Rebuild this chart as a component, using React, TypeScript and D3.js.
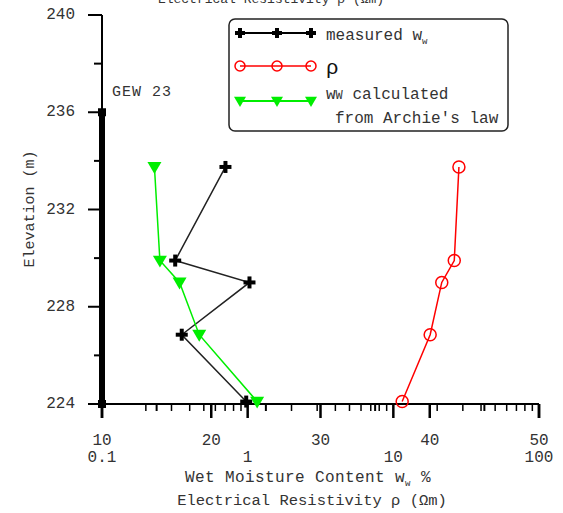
import React from 'react';
import * as d3 from 'd3';

// GEW 23 profile: moisture + resistivity against elevation
const elevation = [233.75, 229.9, 229.0, 226.85, 224.1];
const measuredWw = [21.3, 16.7, 23.5, 17.3, 23.2];
const calculatedWw = [14.8, 15.3, 17.1, 18.9, 24.2];
const resistivity = [28.2, 26.2, 21.5, 17.9, 11.5];

const wellElev = [224, 236]; // GEW 23 well line at x = 10
const wellX = 10;

const elevMajor = [224, 228, 232, 236, 240];
const elevMinor = [226, 230, 234, 238];
const moistMajor = [10, 20, 30, 40, 50];
const moistMinor = [15, 25, 35, 45];
const resMajor = [0.1, 1, 10, 100];
const resMinor = [0.1, 1, 10].flatMap((d) => [2, 3, 4, 5, 6, 7, 8, 9].map((k) => d * k));

const FONT = '"Liberation Mono", "DejaVu Sans Mono", monospace';
const TXT = '#333';

const y = d3.scaleLinear().domain([224, 240]).range([404, 15]);
const xw = d3.scaleLinear().domain([10, 50]).range([102, 539]);
const xr = d3.scaleLog().domain([0.1, 100]).range([102, 539]);

const line = d3.line<[number, number]>().x((d) => d[0]).y((d) => d[1]);

const Plus = ({ x, y, s = 6 }: { x: number; y: number; s?: number }) => (
  <g stroke="#000" strokeWidth={4}>
    <line x1={x - s} x2={x + s} y1={y} y2={y} />
    <line x1={x} x2={x} y1={y - s} y2={y + s} />
  </g>
);
const Circ = ({ x, y }: { x: number; y: number }) => (
  <circle cx={x} cy={y} r={6} fill="none" stroke="#ff0000" strokeWidth={1.5} />
);
const Tri = ({ x, y, s = 7 }: { x: number; y: number; s?: number }) => (
  <path d={`M${x - s},${y - s * 0.7}L${x + s},${y - s * 0.7}L${x},${y + s}Z`} fill="#00ee00" />
);

export default function App() {
  const mPts = elevation.map((e, i) => [xw(measuredWw[i]), y(e)] as [number, number]);
  const cPts = elevation.map((e, i) => [xw(calculatedWw[i]), y(e)] as [number, number]);
  const rPts = elevation.map((e, i) => [xr(resistivity[i]), y(e)] as [number, number]);
  const legX = [240, 277, 311];

  return (
    <svg width={563} height={513} style={{ position: 'absolute', left: 0, top: 0, background: '#fff' }}>
      {/* title cut off at the top, as in the original */}
      <text x={271} y={3} textAnchor="middle" fontFamily={FONT} fontSize={13} fill={TXT}>
        Electrical Resistivity ρ (Ωm)
      </text>

      {/* y axis */}
      <line x1={102} x2={102} y1={y(240)} y2={y(224)} stroke="#000" strokeWidth={2} />
      {elevMajor.map((d) => (
        <g key={'ym' + d}>
          <line x1={88} x2={102} y1={y(d)} y2={y(d)} stroke="#000" strokeWidth={2} />
          <text x={75} y={y(d)} textAnchor="end" dominantBaseline="central" fontFamily={FONT} fontSize={16} fill={TXT}>
            {d}
          </text>
        </g>
      ))}
      {elevMinor.map((d) => (
        <line key={'yn' + d} x1={94} x2={102} y1={y(d)} y2={y(d)} stroke="#000" strokeWidth={2} />
      ))}
      <text transform="translate(30,209) rotate(-90)" textAnchor="middle" dominantBaseline="central" fontFamily={FONT} fontSize={15} fill={TXT}>
        Elevation (m)
      </text>

      {/* x axis */}
      <line x1={102} x2={539} y1={404} y2={404} stroke="#000" strokeWidth={2} />
      {moistMajor.map((d) => (
        <line key={'xm' + d} x1={xw(d)} x2={xw(d)} y1={404} y2={418} stroke="#000" strokeWidth={2.5} />
      ))}
      {moistMinor.map((d) => (
        <line key={'xn' + d} x1={xw(d)} x2={xw(d)} y1={404} y2={411} stroke="#000" strokeWidth={2} />
      ))}
      {resMajor.map((d) => (
        <line key={'rm' + d} x1={xr(d)} x2={xr(d)} y1={404} y2={418} stroke="#000" strokeWidth={2.5} />
      ))}
      {resMinor.map((d) => (
        <line key={'rn' + d} x1={xr(d)} x2={xr(d)} y1={404} y2={411} stroke="#000" strokeWidth={1.5} />
      ))}
      {moistMajor.map((d) => (
        <text key={'xl' + d} x={xw(d)} y={445} textAnchor="middle" fontFamily={FONT} fontSize={16} fill={TXT}>
          {d}
        </text>
      ))}
      {resMajor.map((d) => (
        <text key={'rl' + d} x={xr(d)} y={462} textAnchor="middle" fontFamily={FONT} fontSize={16} fill={TXT}>
          {d}
        </text>
      ))}
      <text x={308} y={482} textAnchor="middle" fontFamily={FONT} fontSize={16} letterSpacing={0.4} fill={TXT}>
        Wet Moisture Content w<tspan fontSize={9} dy={4}>w</tspan>
        <tspan dy={-4}> %</tspan>
      </text>
      <text x={312} y={505} textAnchor="middle" fontFamily={FONT} fontSize={15.5} fill={TXT}>
        Electrical Resistivity ρ (Ωm)
      </text>

      {/* GEW 23 well line */}
      <line x1={xw(wellX)} x2={xw(wellX)} y1={y(wellElev[0])} y2={y(wellElev[1])} stroke="#000" strokeWidth={6} />
      {wellElev.map((e) => (
        <rect key={'w' + e} x={xw(wellX) - 4} y={y(e) - 4} width={8} height={8} fill="#000" />
      ))}
      <text x={112} y={96} fontFamily={FONT} fontSize={15} fill={TXT} letterSpacing={1}>
        GEW 23
      </text>

      {/* series */}
      <path d={line(mPts) || ''} fill="none" stroke="#222" strokeWidth={1.5} />
      <path d={line(cPts) || ''} fill="none" stroke="#00ee00" strokeWidth={1.5} />
      <path d={line(rPts) || ''} fill="none" stroke="#ff0000" strokeWidth={1.5} />
      {mPts.map((p, i) => <Plus key={'p' + i} x={p[0]} y={p[1]} />)}
      {cPts.map((p, i) => <Tri key={'t' + i} x={p[0]} y={p[1]} />)}
      {rPts.map((p, i) => <Circ key={'c' + i} x={p[0]} y={p[1]} />)}

      {/* legend */}
      <rect x={229} y={19} width={279} height={112} rx={6} fill="#fff" stroke="#222" strokeWidth={1.5} />
      <line x1={240} x2={311} y1={33} y2={33} stroke="#000" strokeWidth={2} />
      {legX.map((x) => <Plus key={'lp' + x} x={x} y={33} s={5} />)}
      <text x={326} y={40} fontFamily={FONT} fontSize={16} fill={TXT}>
        measured w<tspan fontSize={9} dy={4}>w</tspan>
      </text>
      <line x1={240} x2={311} y1={66} y2={66} stroke="#ff0000" strokeWidth={1.5} />
      {legX.map((x) => <circle key={'lc' + x} cx={x} cy={66} r={5} fill="none" stroke="#ff0000" strokeWidth={1.5} />)}
      <text x={326} y={74} fontFamily={FONT} fontSize={21} fill="#111">ρ</text>
      <line x1={240} x2={311} y1={101} y2={101} stroke="#00ee00" strokeWidth={2} />
      {legX.map((x) => <Tri key={'lt' + x} x={x} y={101} s={6} />)}
      <text x={326} y={99} fontFamily={FONT} fontSize={16} fill={TXT}>
        w<tspan fontSize={12}>W</tspan> calculated
      </text>
      <text x={335} y={123} fontFamily={FONT} fontSize={16} fill={TXT}>
        from Archie's law
      </text>
    </svg>
  );
}
